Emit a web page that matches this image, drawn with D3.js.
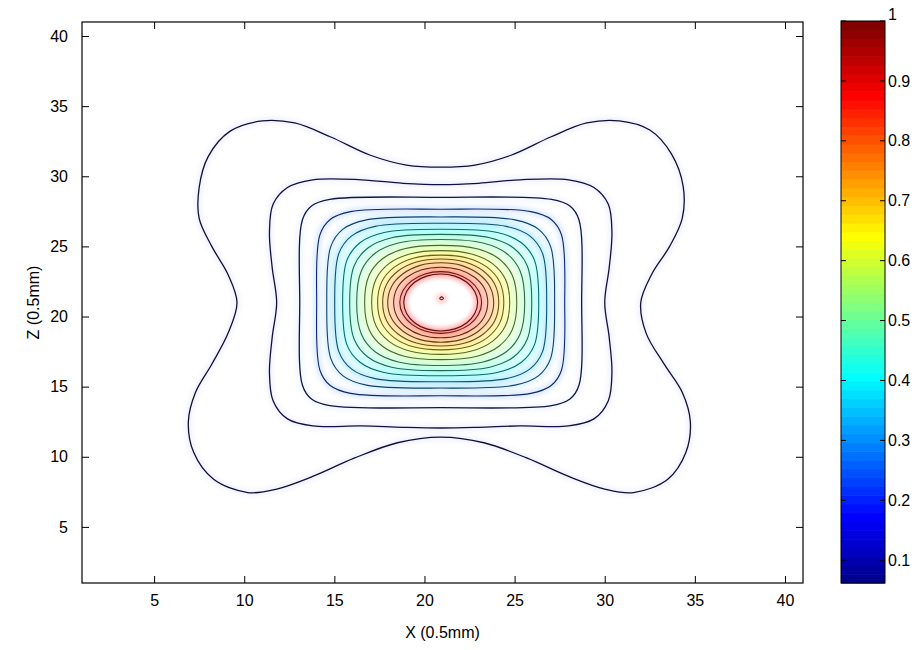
<!DOCTYPE html>
<html><head><meta charset="utf-8">
<script src="https://cdn.jsdelivr.net/npm/d3@7"></script>
<style>
body{margin:0;background:#fff}
text{font-family:"Liberation Sans",Arial,Helvetica,sans-serif;fill:#000}
</style>
</head><body>
<svg id="chart" width="923" height="650"></svg>
<script>
// Axis ticks and colour range
const xTicks = [5, 10, 15, 20, 25, 30, 35, 40];
const zTicks = [5, 10, 15, 20, 25, 30, 35, 40];
const colorTicks = [0.1, 0.2, 0.3, 0.4, 0.5, 0.6, 0.7, 0.8, 0.9, 1];
const colorRange = [0.062, 1];

// Contour levels (normalised intensity)
const levels = [0.10, 0.15, 0.20, 0.25, 0.30, 0.35, 0.40, 0.45, 0.50,
                0.55, 0.60, 0.65, 0.70, 0.75, 0.80, 0.85, 0.90, 0.95];

// Closed iso-lines, vertices as [x, z] in grid units (0.5 mm)
const c010 = [[9.6,21.0],[9.1,23.0],[8.2,25.0],[7.5,27.0],[7.5,29.2],[8.0,31.4],[9.2,33.2],[11.0,33.95],[12.8,33.8],[14.8,32.8],[17.0,31.5],[19.0,30.8],[20.9,30.65],[22.8,30.8],[24.8,31.5],[27.0,32.8],[29.0,33.8],[30.8,33.95],[32.5,33.3],[33.7,31.6],[34.35,29.3],[34.3,27.0],[33.6,25.0],[32.6,23.0],[32.0,21.0],[32.3,18.8],[33.3,16.6],[34.3,14.6],[34.75,12.5],[34.5,10.3],[33.5,8.4],[31.6,7.45],[30.0,7.7],[28.0,8.6],[25.7,9.9],[23.3,11.0],[20.9,11.4],[18.5,11.0],[16.1,9.9],[13.8,8.6],[11.8,7.7],[10.2,7.45],[8.3,8.4],[7.2,10.3],[6.9,12.5],[7.3,14.6],[8.2,16.6],[9.1,18.8]];
const c015 = [[11.8,21.0],[11.55,23.5],[11.4,26.0],[11.6,28.0],[12.4,29.2],[13.8,29.75],[16.5,29.75],[18.8,29.5],[20.9,29.4],[23.0,29.5],[25.3,29.75],[28.0,29.75],[29.4,29.2],[30.2,28.0],[30.4,26.0],[30.25,23.5],[30.0,21.0],[30.25,18.5],[30.4,16.0],[30.2,14.0],[29.4,12.7],[28.0,12.2],[25.3,12.2],[23.0,12.1],[20.9,12.05],[18.8,12.1],[16.5,12.2],[13.8,12.2],[12.4,12.7],[11.6,14.0],[11.4,16.0],[11.55,18.5]];
const c020 = [[28.72,21.0],[28.57,26.90],[28.07,27.88],[27.05,28.35],[20.9,28.5],[14.75,28.35],[13.73,27.88],[13.23,26.90],[13.08,21.0],[13.23,15.10],[13.73,14.12],[14.75,13.65],[20.9,13.5],[27.05,13.65],[28.07,14.12],[28.57,15.10]];
const c025 = [[27.78,21.0],[27.60,25.83],[27.03,26.92],[25.90,27.48],[20.9,27.65],[15.90,27.48],[14.77,26.92],[14.20,25.83],[14.02,21.0],[14.20,16.17],[14.77,15.08],[15.90,14.52],[20.9,14.35],[25.90,14.52],[27.03,15.08],[27.60,16.17]];
const c030 = [[27.22,21.0],[27.00,24.98],[26.32,26.23],[25.02,26.89],[20.9,27.1],[16.78,26.89],[15.48,26.23],[14.80,24.98],[14.58,21.0],[14.80,17.02],[15.48,15.77],[16.78,15.11],[20.9,14.9],[25.02,15.11],[26.32,15.77],[27.00,17.02]];
const c035 = [[26.78,21.0],[26.55,24.50],[25.84,25.75],[24.54,26.43],[20.9,26.65],[17.26,26.43],[15.96,25.75],[15.25,24.50],[15.02,21.0],[15.25,17.50],[15.96,16.25],[17.26,15.57],[20.9,15.35],[24.54,15.57],[25.84,16.25],[26.55,17.50]];
const c040 = [[26.34,21.0],[26.10,24.02],[25.36,25.28],[24.04,25.99],[20.9,26.22],[17.76,25.99],[16.44,25.28],[15.70,24.02],[15.46,21.0],[15.70,17.98],[16.44,16.72],[17.76,16.01],[20.9,15.78],[24.04,16.01],[25.36,16.72],[26.10,17.98]];
const c045 = [[25.95,21.0],[25.70,23.62],[24.94,24.89],[23.62,25.62],[20.9,25.86],[18.18,25.62],[16.86,24.89],[16.10,23.62],[15.85,21.0],[16.10,18.38],[16.86,17.11],[18.18,16.38],[20.9,16.14],[23.62,16.38],[24.94,17.11],[25.70,18.38]];
const c050 = [[25.56,21.0],[25.30,23.26],[24.54,24.51],[23.25,25.24],[20.9,25.49],[18.55,25.24],[17.26,24.51],[16.50,23.26],[16.24,21.0],[16.50,18.74],[17.26,17.49],[18.55,16.76],[20.9,16.51],[23.25,16.76],[24.54,17.49],[25.30,18.74]];
const c055 = [[25.12,21.0],[24.87,22.94],[24.13,24.12],[22.92,24.83],[20.9,25.07],[18.88,24.83],[17.67,24.12],[16.93,22.94],[16.68,21.0],[16.93,19.06],[17.67,17.88],[18.88,17.17],[20.9,16.93],[22.92,17.17],[24.13,17.88],[24.87,19.06]];
const c060 = [[24.73,21.0],[24.49,22.66],[23.77,23.77],[22.62,24.46],[20.9,24.7],[19.18,24.46],[18.03,23.77],[17.31,22.66],[17.07,21.0],[17.31,19.34],[18.03,18.23],[19.18,17.54],[20.9,17.3],[22.62,17.54],[23.77,18.23],[24.49,19.34]];
const c065 = [[24.4,21.0],[24.17,22.47],[23.49,23.50],[22.42,24.16],[20.9,24.38],[19.38,24.16],[18.31,23.50],[17.63,22.47],[17.4,21.0],[17.63,19.53],[18.31,18.50],[19.38,17.84],[20.9,17.62],[22.42,17.84],[23.49,18.50],[24.17,19.53]];
const c070 = [[24.12,21.0],[23.90,22.30],[23.25,23.26],[22.25,23.89],[20.9,24.1],[19.55,23.89],[18.55,23.26],[17.90,22.30],[17.68,21.0],[17.90,19.70],[18.55,18.74],[19.55,18.11],[20.9,17.9],[22.25,18.11],[23.25,18.74],[23.90,19.70]];
const c075 = [[23.84,21.0],[23.63,22.13],[23.01,23.03],[22.08,23.63],[20.9,23.83],[19.72,23.63],[18.79,23.03],[18.17,22.13],[17.96,21.0],[18.17,19.87],[18.79,18.97],[19.72,18.37],[20.9,18.17],[22.08,18.37],[23.01,18.97],[23.63,19.87]];
const c080 = [[23.51,21.0],[23.32,22.01],[22.78,22.80],[21.95,23.33],[20.9,23.51],[19.85,23.33],[19.02,22.80],[18.48,22.01],[18.29,21.0],[18.48,19.99],[19.02,19.20],[19.85,18.67],[20.9,18.49],[21.95,18.67],[22.78,19.20],[23.32,19.99]];
const c085 = [[23.17,21.0],[23.0,21.84],[22.51,22.56],[21.77,23.03],[20.9,23.2],[20.03,23.03],[19.30,22.56],[18.80,21.84],[18.63,21.0],[18.80,20.16],[19.30,19.44],[20.03,18.97],[20.9,18.8],[21.77,18.97],[22.51,19.44],[23.0,20.16]];
const c090 = [[22.95,21.0],[22.79,21.78],[22.35,22.44],[21.69,22.88],[20.9,23.03],[20.12,22.88],[19.45,22.44],[19.01,21.78],[18.85,21.0],[19.01,20.22],[19.45,19.56],[20.12,19.12],[20.9,18.97],[21.69,19.12],[22.35,19.56],[22.79,20.22]];
const c095 = [[21.05,21.3],[20.95,21.4],[20.85,21.3],[20.95,21.2]];

const isoLines = [c010, c015, c020, c025, c030, c035, c040, c045, c050,
                  c055, c060, c065, c070, c075, c080, c085, c090, c095];

// ---- layout ----
const svg = d3.select("#chart");
const plot = {left: 82, right: 803, top: 22, bottom: 583};
const bar = {left: 841, right: 885, top: 21, bottom: 583};

const x = d3.scaleLinear().domain([1, 41]).range([plot.left, plot.right]);
const z = d3.scaleLinear().domain([1, 41]).range([plot.bottom, plot.top]);
const cScale = d3.scaleLinear().domain(colorRange).range([bar.bottom, bar.top]);

// MATLAB-style jet colormap with 64 entries
const NC = 64;
function jetRGB(k) {
  const t = (k + 1) / NC;
  const cl = v => Math.max(0, Math.min(1, v));
  return [cl(1.5 - Math.abs(4 * t - 3)), cl(1.5 - Math.abs(4 * t - 2)), cl(1.5 - Math.abs(4 * t - 1))];
}
function jetIndex(v) {
  const t = (v - colorRange[0]) / (colorRange[1] - colorRange[0]);
  return Math.max(0, Math.min(NC - 1, Math.floor(t * NC)));
}
const toColor = rgb => d3.rgb(rgb[0] * 255, rgb[1] * 255, rgb[2] * 255);

// ---- defs ----
const defs = svg.append("defs");
defs.append("clipPath").attr("id", "plotClip").append("rect")
  .attr("x", plot.left).attr("y", plot.top)
  .attr("width", plot.right - plot.left).attr("height", plot.bottom - plot.top);
defs.append("filter").attr("id", "soft").attr("x", "-20%").attr("y", "-20%")
  .attr("width", "140%").attr("height", "140%")
  .append("feGaussianBlur").attr("stdDeviation", 2.0);

svg.append("rect").attr("width", 923).attr("height", 650).attr("fill", "#fff");

const line = d3.line()
  .x(d => x(d[0])).y(d => z(d[1]))
  .curve(d3.curveCatmullRomClosed.alpha(0.5));

const data = levels.map((lv, i) => ({level: lv, pts: isoLines[i]}));

const g = svg.append("g").attr("clip-path", "url(#plotClip)");

// colour bleed around each iso-line
g.append("g").attr("filter", "url(#soft)")
  .selectAll("path").data(data).join("path")
  .attr("d", d => line(d.pts))
  .attr("fill", "none")
  .attr("stroke", d => {
    const c = d3.hsl(toColor(jetRGB(jetIndex(d.level))));
    c.l = Math.max(c.l, 0.55);
    return c.formatRgb();
  })
  .attr("stroke-width", 7)
  .attr("stroke-opacity", d => d.level < 0.22 ? 0.05 : d.level < 0.33 ? 0.13 : 0.28);

// iso-lines
g.append("g")
  .selectAll("path").data(data).join("path")
  .attr("d", d => line(d.pts))
  .attr("fill", "none")
  .attr("stroke", d => d3.interpolateRgb(toColor(jetRGB(jetIndex(d.level))), "#141418")(d.level < 0.22 ? 0.8 : 0.64))
  .attr("stroke-width", d => d.level < 0.22 ? 1.3 : 1.1);

// ---- axes ----
const tickLen = 7;
const fontSize = 16;
const axB = svg.append("g").attr("transform", `translate(0,${plot.bottom})`)
  .call(d3.axisBottom(x).tickValues(xTicks).tickSizeInner(-tickLen).tickSizeOuter(0).tickPadding(12));
const axL = svg.append("g").attr("transform", `translate(${plot.left},0)`)
  .call(d3.axisLeft(z).tickValues(zTicks).tickSizeInner(-tickLen).tickSizeOuter(0).tickPadding(14));
const axT = svg.append("g").attr("transform", `translate(0,${plot.top})`)
  .call(d3.axisTop(x).tickValues(xTicks).tickSizeInner(-tickLen).tickSizeOuter(0).tickFormat(""));
const axR = svg.append("g").attr("transform", `translate(${plot.right},0)`)
  .call(d3.axisRight(z).tickValues(zTicks).tickSizeInner(-tickLen).tickSizeOuter(0).tickFormat(""));
[axB, axL, axT, axR].forEach(a => {
  a.selectAll("path.domain").remove();
  a.selectAll(".tick line").attr("stroke", "#000");
  a.selectAll(".tick text").attr("font-size", fontSize).attr("fill", "#000")
   .style("font-family", '"Liberation Sans", Arial, sans-serif');
});
svg.append("rect")
  .attr("x", plot.left).attr("y", plot.top)
  .attr("width", plot.right - plot.left).attr("height", plot.bottom - plot.top)
  .attr("fill", "none").attr("stroke", "#000").attr("stroke-width", 1.2);

svg.append("text").attr("x", (plot.left + plot.right) / 2).attr("y", 638)
  .attr("text-anchor", "middle").attr("font-size", fontSize).text("X (0.5mm)");
svg.append("text")
  .attr("transform", `translate(39,${(plot.top + plot.bottom) / 2}) rotate(-90)`)
  .attr("text-anchor", "middle").attr("font-size", fontSize).text("Z (0.5mm)");

// ---- colour bar ----
const step = (colorRange[1] - colorRange[0]) / NC;
const bands = d3.range(NC);
svg.append("g").selectAll("rect").data(bands).join("rect")
  .attr("x", bar.left)
  .attr("y", k => cScale(colorRange[0] + (k + 1) * step))
  .attr("width", bar.right - bar.left)
  .attr("height", k => cScale(colorRange[0] + k * step) - cScale(colorRange[0] + (k + 1) * step) + 0.6)
  .attr("fill", k => toColor(jetRGB(k)).formatRgb());

const cb = svg.append("g");
cb.selectAll("line.l").data(colorTicks).join("line").attr("class", "l")
  .attr("x1", bar.left).attr("x2", bar.left + 5)
  .attr("y1", d => cScale(d)).attr("y2", d => cScale(d)).attr("stroke", "#000");
cb.selectAll("line.r").data(colorTicks).join("line").attr("class", "r")
  .attr("x1", bar.right - 5).attr("x2", bar.right)
  .attr("y1", d => cScale(d)).attr("y2", d => cScale(d)).attr("stroke", "#000");
cb.selectAll("text").data(colorTicks).join("text")
  .attr("x", bar.right + 3).attr("y", d => cScale(d)).attr("dy", d => d === 1 ? "-0.05em" : "0.35em")
  .attr("font-size", fontSize).text(d => d3.format("~g")(d));
svg.append("rect")
  .attr("x", bar.left).attr("y", bar.top)
  .attr("width", bar.right - bar.left).attr("height", bar.bottom - bar.top)
  .attr("fill", "none").attr("stroke", "#000").attr("stroke-width", 1);
</script>
</body></html>
